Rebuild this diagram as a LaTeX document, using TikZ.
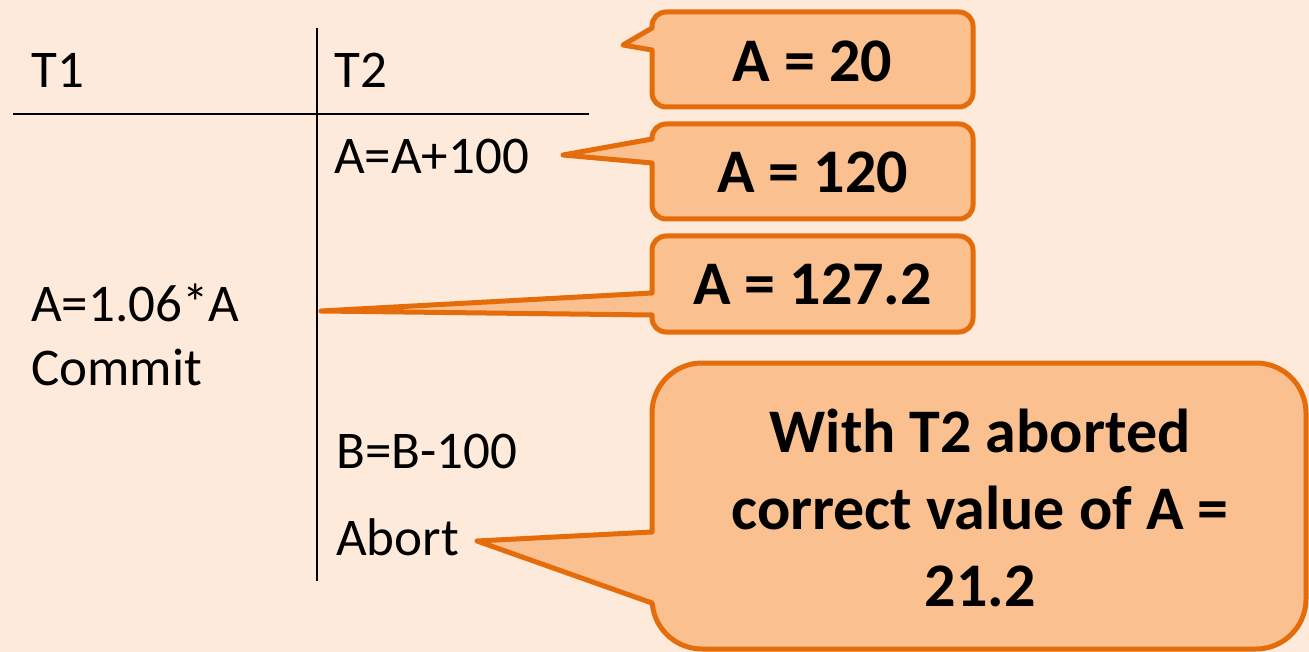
\documentclass[tikz,border=0pt]{standalone}
\usepackage{fontspec}
\setmainfont{Carlito}
\definecolor{bgc}{HTML}{FDEADA}
\definecolor{cfill}{HTML}{FAC090}
\definecolor{cline}{HTML}{E46C0A}
% #1 x1, #2 y1, #3 x2, #4 y2, #5 radius, #6 upper attach y, #7 lower attach y, #8 tip coordinate
\newcommand\drawmycallout[8]{%
  \filldraw[fill=cfill,draw=cline,line width=5pt,rounded corners=#5] (#1,#2) rectangle (#3,#4);
  \fill[cfill] (#8) -- (#1,#6) -- (#1+7,#6) -- (#1+7,#7) -- (#1,#7) -- cycle;
  \draw[ptr] (#1,#6) -- (#8) -- (#1,#7);
}
\begin{document}
\begin{tikzpicture}[x=1pt,y=-1pt,
  txt/.style={font=\fontsize{53}{64}\selectfont, inner sep=0pt, anchor=base west},
  btxt/.style={font=\fontsize{62}{77}\selectfont\bfseries, inner sep=0pt, align=center},
  ptr/.style={draw=cline, line width=5pt, line cap=round, line join=round},
  rulel/.style={line width=2.7pt, black}]
\fill[bgc] (0,0) rectangle (1309,652);
\useasboundingbox (0,0) rectangle (1309,652);
% table rules
\coordinate (hl) at (13,114);
\coordinate (hr) at (589,114);
\coordinate (vt) at (317,28);
\coordinate (vb) at (317,581);
\draw[rulel] (hl) -- (hr);
\draw[rulel] (vt) -- (vb);
% schedule texts
\node[txt] (t1) at (31,88) {T1};
\node[txt] (t2) at (334,88) {T2};
\node[txt] (s1) at (334,174) {A=A+100};
\node[txt] (s2) at (31,322) {A=1.06*A};
\node[txt] (s3) at (31,385) {Commit};
\node[txt] (s4) at (336,468) {B=B-100};
\node[txt] (s5) at (336,555) {Abort};
% callout tips
\coordinate (p1) at (623,45);
\coordinate (p2) at (563,155);
\coordinate (p3) at (321,311);
\coordinate (p4) at (477,541);
% callouts
\drawmycallout{652}{12}{973}{107}{14pt}{28}{50}{p1}
\drawmycallout{652}{124}{973}{219}{14pt}{139}{163}{p2}
\drawmycallout{652}{236}{973}{332}{14pt}{293}{315}{p3}
\drawmycallout{652}{363}{1306}{649}{50pt}{532}{603}{p4}
\node[btxt, anchor=base] (c1) at (812.5,82) {A = 20};
\node[btxt, anchor=base] (c2) at (812.5,193) {A = 120};
\node[btxt, anchor=base] (c3) at (812.5,305) {A = 127.2};
\node[btxt, anchor=center] (c4) at (980,508) {With T2 aborted\\correct value of A =\\21.2};
\end{tikzpicture}
\end{document}
